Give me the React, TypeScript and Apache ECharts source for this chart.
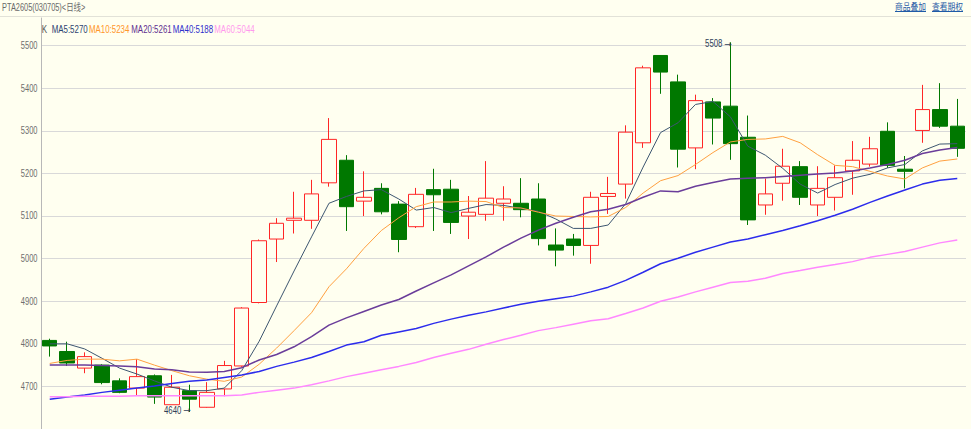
import React, { useEffect, useRef } from 'react';
import * as echarts from 'echarts';

// ---- data (one entry per trading day) ----
const opens = [4808,4782,4743,4750,4713,4696,4725,4657,4690,4651,4694,4748,4897,5046,5090,5090,5178,5231,5135,5165,5128,5075,5162,5163,5100,5104,5130,5130,5140,5032,5046,5031,5146,5175,5272,5477,5415,5260,5368,5358,5285,5126,5177,5216,5126,5144,5206,5222,5299,5210,5301,5350,5311];
const closes = [4795,4755,4770,4709,4686,4723,4675,4698,4670,4686,4749,4884,5042,5083,5095,5152,5280,5122,5144,5110,5045,5151,5150,5085,5109,5142,5140,5115,5047,5020,5031,5144,5153,5297,5448,5438,5257,5371,5330,5270,5091,5152,5217,5144,5165,5190,5231,5258,5219,5205,5350,5311,5259];
const lows = [4770,4748,4731,4705,4684,4679,4659,4657,4640,4650,4677,4746,4895,4992,5059,5070,5169,5065,5100,5104,5015,5072,5065,5058,5046,5089,5089,5097,5031,4982,5007,4988,5105,5141,5260,5387,5214,5210,5268,5232,5079,5103,5136,5126,5100,5113,5150,5216,5213,5165,5272,5307,5239];
const highs = [4812,4805,4780,4752,4719,4764,4728,4727,4704,4710,4760,4886,5045,5095,5157,5185,5330,5243,5205,5177,5135,5166,5211,5185,5147,5229,5170,5189,5177,5071,5058,5157,5192,5313,5453,5478,5432,5385,5377,5508,5336,5188,5258,5229,5217,5219,5276,5286,5320,5241,5408,5412,5375];

const ma5 = [4800,4800,4788,4766,4743,4729,4713,4698,4690,4690,4696,4737,4806,4889,4971,5051,5130,5146,5159,5162,5140,5114,5120,5108,5118,5127,5125,5118,5111,5093,5071,5071,5079,5129,5215,5296,5319,5362,5369,5333,5264,5243,5212,5175,5154,5174,5189,5198,5213,5221,5253,5269,5270];
const ma10 = [4754,4761,4764,4764,4760,4764,4750,4737,4725,4717,4712,4722,4752,4790,4831,4873,4934,4976,5024,5066,5096,5122,5133,5133,5135,5134,5120,5119,5109,5100,5099,5098,5099,5120,5154,5183,5195,5221,5249,5274,5280,5281,5287,5272,5244,5219,5216,5205,5194,5187,5213,5229,5234];
const ma20 = [4750,4750,4750,4749,4748,4746,4741,4739,4734,4733,4735,4744,4762,4775,4793,4817,4844,4861,4876,4891,4904,4924,4943,4962,4983,5004,5027,5048,5067,5083,5097,5110,5116,5127,5144,5159,5157,5170,5179,5187,5189,5190,5193,5196,5199,5201,5206,5213,5221,5231,5247,5255,5261];
const ma40 = [4670,4675,4680,4686,4691,4696,4701,4707,4712,4715,4721,4727,4735,4747,4757,4768,4782,4797,4805,4820,4828,4836,4848,4858,4867,4875,4884,4893,4900,4906,4912,4922,4933,4949,4968,4988,5001,5015,5027,5039,5046,5056,5066,5077,5089,5102,5116,5132,5147,5161,5175,5184,5188];
const ma60 = [4676,4676,4677,4677,4677,4678,4678,4678,4678,4678,4678,4680,4686,4691,4696,4704,4713,4723,4731,4739,4747,4756,4768,4778,4787,4799,4810,4820,4831,4838,4846,4854,4859,4871,4884,4900,4910,4922,4933,4944,4947,4954,4965,4972,4980,4986,4993,5003,5010,5017,5027,5037,5044];

const yTicks = [4700, 4800, 4900, 5000, 5100, 5200, 5300, 5400, 5500];
const maNames = ['MA5', 'MA10', 'MA20', 'MA40', 'MA60'];
const maSeries = [ma5, ma10, ma20, ma40, ma60];
const titleText = 'PTA2605(030705)<日线>';
const linkTexts = ['商品叠加', '查看期权'];

// ---- styles ----
const BG = '#fffff0';
const maLineColors = ['#3d5670', '#ffa040', '#6a3d9a', '#2c2cec', '#ff88ff'];
const maTextColors = ['#2e4470', '#ff962a', '#5f3090', '#3030cc', '#ff99ee'];
const maLineWidths = [1, 1, 1.5, 1.5, 1.5];
const legendX = [51.7, 89, 131.3, 172.7, 214.3];
const FONT = 'Liberation Sans, Arial, sans-serif';

export default function App() {
  const ref = useRef<HTMLDivElement>(null);

  useEffect(() => {
    const chart = echarts.init(ref.current!, null, { renderer: 'svg' });
    const days = opens.map((_, i) => String(i + 1));
    const kData = opens.map((o, i) => [o, closes[i], lows[i], highs[i]]);

    chart.setOption({
      animation: false,
      backgroundColor: BG,
      grid: { left: 41, right: 5, top: 18, bottom: -2 },
      xAxis: {
        type: 'category',
        data: days,
        boundaryGap: true,
        axisLine: { show: false },
        axisTick: { show: false },
        axisLabel: { show: false },
        splitLine: { show: false },
      },
      yAxis: {
        type: 'value',
        min: 4600,
        max: 5565,
        interval: 100,
        axisLine: { show: true, lineStyle: { color: '#b8b8b8', width: 1 } },
        axisTick: { show: false },
        axisLabel: { show: false },
        splitLine: {
          show: true,
          showMinLine: false,
          showMaxLine: false,
          lineStyle: { color: '#d9d9d9', width: 1 },
        },
      },
      series: [
        {
          type: 'candlestick',
          data: kData,
          barWidth: 15,
          silent: true,
          itemStyle: {
            color: BG,
            color0: '#007800',
            borderColor: '#ff2626',
            borderColor0: '#007800',
            borderWidth: 1,
          },
        },
        ...maSeries.map((d, i) => ({
          type: 'line',
          data: d,
          symbol: 'none',
          silent: true,
          lineStyle: { color: maLineColors[i], width: maLineWidths[i] },
        })),
      ],
    });

    const graphics: any[] = [];
    const txt = (text: string, x: number, y: number, opts: any = {}) => ({
      type: 'text',
      x,
      y,
      scaleX: opts.scaleX ?? 1,
      silent: true,
      z: 100,
      style: {
        text,
        fill: opts.fill ?? '#666',
        fontSize: opts.fontSize ?? 10,
        fontFamily: opts.fontFamily ?? FONT,
        align: opts.align ?? 'left',
        verticalAlign: 'middle',
      },
    });

    // header
    graphics.push({
      type: 'line',
      silent: true,
      shape: { x1: 0, y1: 16.5, x2: 971, y2: 16.5 },
      style: { stroke: '#e2e2d8', lineWidth: 1 },
    });
    graphics.push(txt(titleText, 2, 8, { scaleX: 0.74, fill: '#6a6a6a', fontFamily: 'Liberation Sans, Noto Sans CJK SC, sans-serif' }));
    const linkRight = [926, 963];
    linkTexts.forEach((t, i) => {
      graphics.push(txt(t, linkRight[i], 6, { align: 'right', fontSize: 9, scaleX: 0.86, fill: '#1f5aa6', fontFamily: 'Noto Sans CJK SC, sans-serif' }));
      graphics.push({
        type: 'line',
        silent: true,
        shape: { x1: linkRight[i] - 31, y1: 11.5, x2: linkRight[i], y2: 11.5 },
        style: { stroke: '#1f5aa6', lineWidth: 1 },
      });
    });

    // legend row
    graphics.push(txt('K', 41.7, 30, { fill: '#555', scaleX: 0.8 }));
    maNames.forEach((n, i) => {
      const d = maSeries[i];
      graphics.push(txt(`${n}:${d[d.length - 1]}`, legendX[i], 30, { fill: maTextColors[i], scaleX: 0.79 }));
    });

    // y-axis labels
    yTicks.forEach((v) => {
      const y = chart.convertToPixel({ yAxisIndex: 0 }, v) as number;
      graphics.push(txt(String(v), 37.5, y, { align: 'right', fill: '#6e6e6e', scaleX: 0.75 }));
    });

    // extreme annotations
    const hiVal = Math.max(...highs);
    const hiIdx = highs.indexOf(hiVal);
    const loVal = Math.min(...lows);
    const loIdx = lows.indexOf(loVal);
    const hp = chart.convertToPixel({ seriesIndex: 0 }, [hiIdx, hiVal]) as number[];
    const lp = chart.convertToPixel({ seriesIndex: 0 }, [loIdx, loVal]) as number[];
    const annot = (val: number, px: number, py: number) => {
      graphics.push(txt(String(val), px - 8, py, { align: 'right', fill: '#2e3e58', scaleX: 0.78 }));
      graphics.push(txt('→', px + 1.5, py, { align: 'right', fill: '#2e3e58', fontSize: 9, fontFamily: 'DejaVu Sans, sans-serif' }));
    };
    annot(hiVal, hp[0], hp[1] + 1.5);
    annot(loVal, lp[0], lp[1] - 1.5);

    chart.setOption({ graphic: graphics });

    return () => chart.dispose();
  }, []);

  return (
    <div
      ref={ref}
      style={{ position: 'fixed', left: 0, top: 0, width: 971, height: 429, background: BG }}
    />
  );
}
